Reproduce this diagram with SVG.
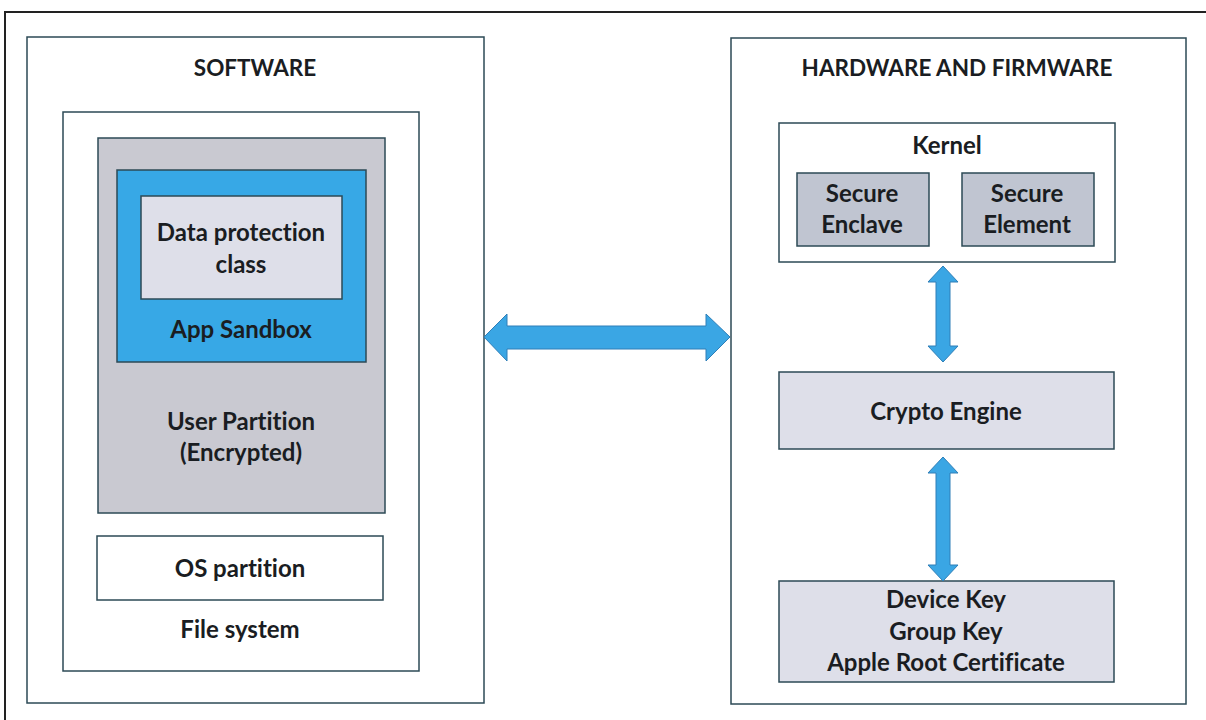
<svg xmlns="http://www.w3.org/2000/svg" width="1206" height="720" viewBox="0 0 1206 720">
<defs>
<style>
.box{stroke:#2c4a56;stroke-width:1.5}
.t{font-family:Lato,"Liberation Sans",sans-serif;font-weight:bold;font-size:24px;fill:#1a1d22;text-anchor:middle;font-variant-ligatures:none}
.h{font-size:22.5px}
.arrow{fill:#3aa6e4;stroke:#2e7fb8;stroke-width:1}
</style>
</defs>
<rect x="0" y="0" width="1206" height="720" fill="#ffffff"/>
<rect x="5" y="12" width="1210" height="720" fill="none" stroke="#222" stroke-width="2"/>

<g id="software">
<rect class="box" x="27" y="37" width="457" height="666" fill="#ffffff"/>
<text class="t h" x="255" y="76">SOFTWARE</text>
</g>
<g id="file-system">
<rect class="box" x="63" y="112" width="356" height="559" fill="#ffffff"/>
<text class="t" x="240" y="638">File system</text>
</g>
<g id="user-partition">
<rect class="box" x="98" y="138" width="287" height="375" fill="#c9c9d1"/>
<text class="t" x="241" y="430">User Partition</text>
<text class="t" x="241" y="461">(Encrypted)</text>
</g>
<g id="app-sandbox">
<rect class="box" x="117" y="170" width="249" height="192" fill="#37a8e6"/>
<text class="t" x="241" y="338">App Sandbox</text>
</g>
<g id="data-protection">
<rect class="box" x="141" y="196" width="201" height="103" fill="#dedfe9"/>
<text class="t" x="241" y="241">Data protection</text>
<text class="t" x="241" y="273">class</text>
</g>
<g id="os-partition">
<rect class="box" x="97" y="536" width="286" height="64" fill="#ffffff"/>
<text class="t" x="240" y="577">OS partition</text>
</g>

<g id="hardware">
<rect class="box" x="731" y="38" width="455" height="666" fill="#ffffff"/>
<text class="t h" x="957" y="76">HARDWARE AND FIRMWARE</text>
</g>
<g id="kernel">
<rect class="box" x="779" y="123" width="336" height="139" fill="#ffffff"/>
<text class="t" x="947" y="154">Kernel</text>
</g>
<g id="secure-enclave">
<rect class="box" x="797" y="173" width="132" height="73" fill="#c0c5d1"/>
<text class="t" x="862" y="202">Secure</text>
<text class="t" x="862" y="233">Enclave</text>
</g>
<g id="secure-element">
<rect class="box" x="962" y="173" width="132" height="73" fill="#c0c5d1"/>
<text class="t" x="1027" y="202">Secure</text>
<text class="t" x="1027" y="233">Element</text>
</g>
<g id="crypto-engine">
<rect class="box" x="779" y="372" width="335" height="77" fill="#dedfe9"/>
<text class="t" x="946" y="420">Crypto Engine</text>
</g>
<g id="keys">
<rect class="box" x="779" y="581" width="335" height="101" fill="#dedfe9"/>
<text class="t" x="946" y="608">Device Key</text>
<text class="t" x="946" y="640">Group Key</text>
<text class="t" x="946" y="671">Apple Root Certificate</text>
</g>

<g id="connectors">
<path class="arrow" d="M484,337 L507,314 L507,326 L706,326 L706,314 L730,337 L706,361 L706,349 L507,349 L507,361 Z"/>
<path class="arrow" d="M943,266 L958,282 L950,282 L950,346 L958,346 L943,362 L928,346 L936,346 L936,282 L928,282 Z"/>
<path class="arrow" d="M943,457 L958,473 L950,473 L950,565 L958,565 L943,581 L928,565 L936,565 L936,473 L928,473 Z"/>
</g>
</svg>
